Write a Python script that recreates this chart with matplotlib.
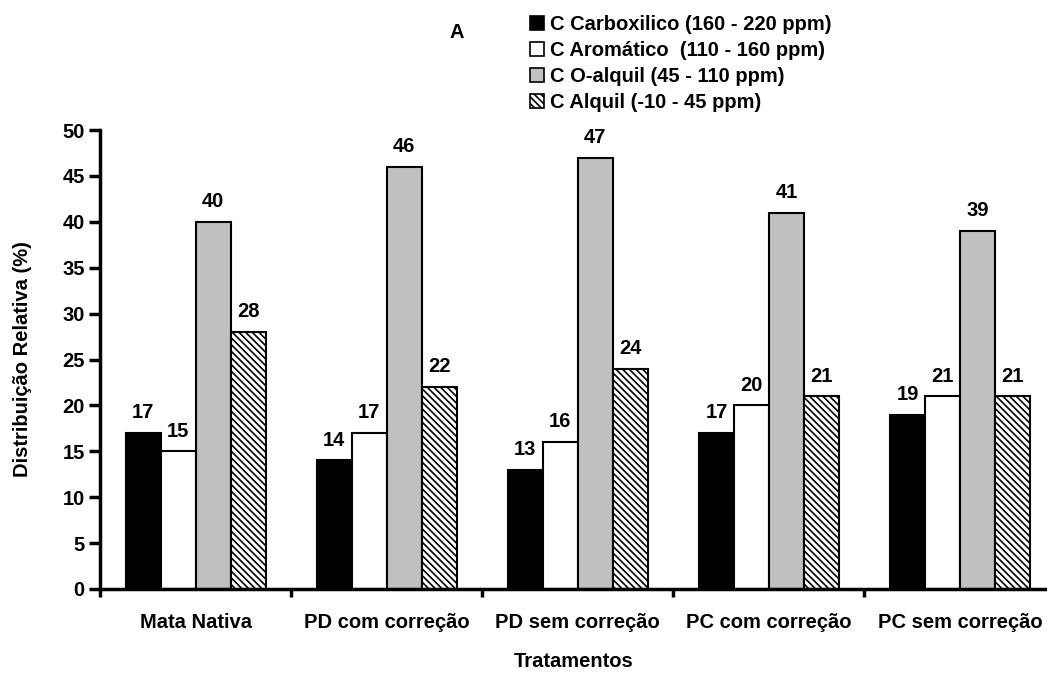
import numpy as np
import matplotlib.pyplot as plt
from matplotlib.patches import Patch

plt.rcParams['font.family'] = ['Liberation Sans', 'DejaVu Sans']
plt.rcParams['font.weight'] = 'bold'
plt.rcParams['hatch.linewidth'] = 1.2

tratamentos = ['Mata Nativa', 'PD com correção', 'PD sem correção',
               'PC com correção', 'PC sem correção']
carboxilico = [17, 14, 13, 17, 19]
aromatico = [15, 17, 16, 20, 21]
o_alquil = [40, 46, 47, 41, 39]
alquil = [28, 22, 24, 21, 21]

series = [
    ('C Carboxilico (160 - 220 ppm)', carboxilico, 'black', None),
    ('C Aromático  (110 - 160 ppm)', aromatico, 'white', None),
    ('C O-alquil (45 - 110 ppm)', o_alquil, '#c0c0c0', None),
    ('C Alquil (-10 - 45 ppm)', alquil, 'white', '\\\\\\\\\\'),
]

fs = 14.5

fig = plt.figure(figsize=(10.47, 6.74), dpi=100)
ax = fig.add_axes([100 / 1047, 1 - 589 / 674, 947 / 1047, 459 / 674])

x = np.arange(len(tratamentos))
w = 0.183
start = 0.5 - 2 * w
handles = []
for i, (name, vals, color, hatch) in enumerate(series):
    pos = x + start + i * w + w / 2
    ax.bar(pos, vals, width=w, color=color, edgecolor='black',
           linewidth=1.5, hatch=hatch)
    for p, v in zip(pos, vals):
        ax.text(p, v + 1.6, str(v), ha='center', va='baseline',
                fontsize=fs, fontweight='bold')
    handles.append(Patch(facecolor=color, edgecolor='black',
                         linewidth=1.2, hatch=hatch, label=name))

ax.set_xlim(0, 4.955)
ax.set_ylim(0, 50)
ax.set_yticks(np.arange(0, 51, 5))
ax.set_xticks(np.arange(0, 5))
ax.set_xticklabels([])
ax.set_xticks(x + 0.5, minor=True)
ax.set_xticklabels(tratamentos, minor=True)
ax.tick_params(axis='x', which='minor', length=0, pad=17, labelsize=fs)
ax.tick_params(axis='x', which='major', length=6, width=2.5)
ax.tick_params(axis='y', length=8, width=2.5, labelsize=fs, pad=3)
for s in ['top', 'right']:
    ax.spines[s].set_visible(False)
for s in ['left', 'bottom']:
    ax.spines[s].set_linewidth(2.5)

ax.set_ylabel('Distribuição Relativa (%)', fontsize=fs, fontweight='bold',
              labelpad=22)
ax.set_xlabel('Tratamentos', fontsize=fs, fontweight='bold', labelpad=15)

fig.text(457 / 1047, 1 - 32 / 674, 'A', fontsize=fs, fontweight='bold',
         ha='center', va='center')
fig.legend(handles=handles, loc='upper left',
           bbox_to_anchor=(520 / 1047, 1 - 5 / 674), frameon=False,
           fontsize=fs, handlelength=0.7, handleheight=0.7,
           handletextpad=0.3, labelspacing=0.35, borderpad=0)

fig.savefig('out.png', dpi=100)
